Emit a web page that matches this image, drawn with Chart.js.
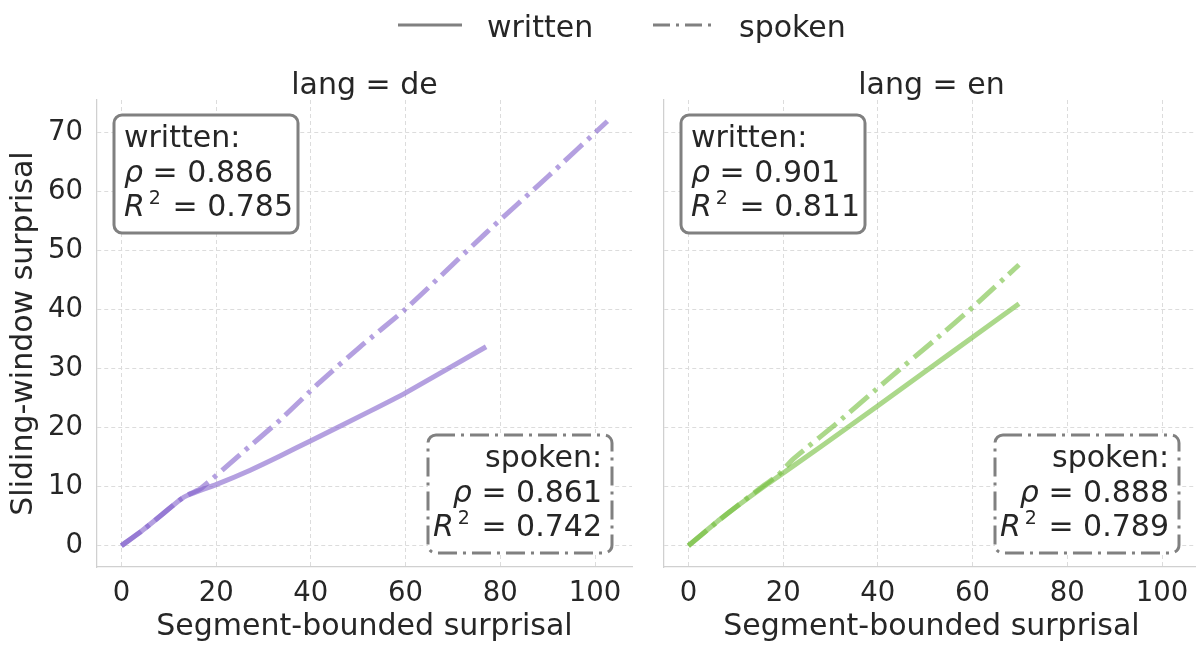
<!DOCTYPE html>
<html>
<head>
<meta charset="utf-8">
<script src="https://cdn.jsdelivr.net/npm/chart.js@4.4.1/dist/chart.umd.min.js"></script>
<style>
html, body { margin: 0; padding: 0; background: #fff; overflow: hidden; }
#wrap { position: relative; width: 1196px; height: 645px; overflow: hidden; }
#wrap canvas { position: absolute; left: 0; top: 0; }
</style>
</head>
<body>
<div id="wrap">
	<canvas id="chartDe" width="1200" height="645"></canvas>
	<canvas id="chartEn" width="1200" height="645"></canvas>
</div>
<script>
// data
const langs = ['de', 'en'];
const seriesNames = ['written', 'spoken'];

const deWrittenX = [0, 4.6, 8.9, 12.4, 14.1, 20.1, 27.2, 33.5, 40, 52.5, 60, 77];
const deWrittenY = [0, 2.7, 5.5, 7.8, 8.6, 10.4, 12.8, 15.2, 17.8, 22.8, 25.9, 33.7];
const deSpokenX = [0, 4.6, 8.9, 12.4, 14.5, 16.6, 25, 33.5, 41.6, 50.4, 60, 77, 90, 102.6];
const deSpokenY = [0, 2.7, 5.5, 7.8, 8.8, 9.6, 15.4, 21.3, 27.5, 33.7, 40.1, 53, 62.5, 71.9];

const enWrittenX = [0, 6.7, 15.9, 28, 39.8, 50, 60.3, 69.8];
const enWrittenY = [0, 4.5, 10.0, 16.8, 23.6, 29.5, 35.5, 41.0];
const enSpokenX = [0, 8, 15.9, 19, 22, 31.4, 42, 51.8, 60.3, 69.8];
const enSpokenY = [0, 5.3, 10.2, 12, 14.6, 20.8, 28.1, 34.7, 40.6, 47.6];

const rhoWritten = [0.886, 0.901];
const r2Written = [0.785, 0.811];
const rhoSpoken = [0.861, 0.888];
const r2Spoken = [0.742, 0.789];

const xTicks = [0, 20, 40, 60, 80, 100];
const yTicks = [0, 10, 20, 30, 40, 50, 60, 70];

const FONT = '"DejaVu Sans", "Liberation Sans", sans-serif';
const TEXT = '#262626';
const EDGE = '#808080';
const dashDot = [24, 7, 4, 7];

function pts(xs, ys) {
	return xs.map(function(x, i) { return {x: x, y: ys[i]}; });
}

function segFont(s) {
	if (s.sup) return '19px ' + FONT;
	if (s.italic) return 'italic 30px ' + FONT;
	return '30px ' + FONT;
}

function drawRich(ctx, segs, x, y, align) {
	let w = 0;
	segs.forEach(function(s) {
		ctx.font = segFont(s);
		s.w = ctx.measureText(s.t).width + (s.gap || 0);
		w += s.w;
	});
	let cx = align === 'right' ? x - w : x;
	segs.forEach(function(s) {
		ctx.font = segFont(s);
		ctx.fillText(s.t, cx, s.sup ? y - 12 : y);
		cx += s.w;
	});
}

function roundBox(ctx, x, y, w, h, r, dash) {
	ctx.save();
	ctx.beginPath();
	ctx.moveTo(x + r, y);
	ctx.lineTo(x + w - r, y);
	ctx.arcTo(x + w, y, x + w, y + r, r);
	ctx.lineTo(x + w, y + h - r);
	ctx.arcTo(x + w, y + h, x + w - r, y + h, r);
	ctx.lineTo(x + r, y + h);
	ctx.arcTo(x, y + h, x, y + h - r, r);
	ctx.lineTo(x, y + r);
	ctx.arcTo(x, y, x + r, y, r);
	ctx.closePath();
	ctx.fillStyle = '#fff';
	ctx.fill();
	ctx.setLineDash(dash || []);
	ctx.lineWidth = 3;
	ctx.strokeStyle = EDGE;
	ctx.stroke();
	ctx.restore();
}

function statLines(label, rho, r2) {
	return [
		[{t: label + ':'}],
		[{t: 'ρ', italic: true}, {t: ' = ' + rho.toFixed(3)}],
		[{t: 'R', italic: true, gap: 4}, {t: '2', sup: true, gap: 2}, {t: ' = ' + r2.toFixed(3)}]
	];
}

const panelDecor = {
	id: 'panelDecor',
	afterDatasetsDraw: function(chart, args, opts) {
		const ctx = chart.ctx;
		const ca = chart.chartArea;
		const bw = 184, bh = 118;
		ctx.save();
		ctx.textAlign = 'left';
		ctx.textBaseline = 'alphabetic';

		// written box, top left
		let bx = ca.left + 17, by = ca.top + 15;
		roundBox(ctx, bx, by, bw, bh, 8, null);
		ctx.fillStyle = TEXT;
		statLines('written', opts.rhoW, opts.r2W).forEach(function(line, i) {
			drawRich(ctx, line, bx + 10, by + 32 + i * 34.7, 'left');
		});

		// spoken box, bottom right
		bx = ca.right - 20 - bw;
		by = ca.bottom - 14 - bh;
		roundBox(ctx, bx, by, bw, bh, 8, [19, 6, 3, 6]);
		ctx.fillStyle = TEXT;
		statLines('spoken', opts.rhoS, opts.r2S).forEach(function(line, i) {
			drawRich(ctx, line, bx + bw - 10, by + 32 + i * 34.7, 'right');
		});
		ctx.restore();
	},
	afterDraw: function(chart, args, opts) {
		const ctx = chart.ctx;
		const ca = chart.chartArea;
		ctx.save();
		ctx.fillStyle = TEXT;
		ctx.font = '30px ' + FONT;
		ctx.textAlign = 'center';
		ctx.textBaseline = 'alphabetic';
		ctx.fillText(opts.title, (ca.left + ca.right) / 2, 94);

		if (opts.legend) {
			ctx.strokeStyle = EDGE;
			ctx.lineWidth = 3;
			ctx.lineCap = 'butt';
			ctx.beginPath();
			ctx.moveTo(398, 25);
			ctx.lineTo(462, 25);
			ctx.stroke();
			ctx.setLineDash([17, 6, 3, 6]);
			ctx.beginPath();
			ctx.moveTo(653, 25);
			ctx.lineTo(712, 25);
			ctx.stroke();
			ctx.setLineDash([]);
			ctx.textAlign = 'left';
			ctx.fillText(seriesNames[0], 487, 37);
			ctx.fillText(seriesNames[1], 739, 37);
		}
		ctx.restore();
	}
};

function makePanel(canvasId, idx, written, spoken, color, showY) {
	const grid = {color: '#dcdcdc', lineWidth: 1, drawTicks: false};
	const border = {display: true, color: '#d0d0d0', width: 1.25, dash: [4, 3]};
	return new Chart(document.getElementById(canvasId), {
		type: 'line',
		data: {
			datasets: [
				{label: seriesNames[0], data: written, borderColor: color, borderWidth: 5,
					pointRadius: 0, fill: false, tension: 0.2, borderCapStyle: 'butt'},
				{label: seriesNames[1], data: spoken, borderColor: color, borderWidth: 5, borderDash: dashDot,
					pointRadius: 0, fill: false, tension: 0.2, borderCapStyle: 'butt'}
			]
		},
		options: {
			responsive: false,
			animation: false,
			events: [],
			layout: {padding: showY ? {left: 0, top: 100, right: 568, bottom: 0} : {left: 664, top: 100, right: 1, bottom: 0}},
			scales: {
				x: {
					type: 'linear', min: -5.15, max: 107.8,
					afterBuildTicks: function(s) { s.ticks = xTicks.map(function(v) { return {value: v}; }); },
					afterFit: function(s) { s.height = 78; },
					ticks: {stepSize: 20, includeBounds: false, maxRotation: 0, padding: 10, color: TEXT,
						font: {family: FONT, size: 27.5}},
					grid: grid, border: border,
					title: {display: true, text: 'Segment-bounded surprisal', color: TEXT,
						font: {family: FONT, size: 30}, padding: {top: 0, bottom: 0}}
				},
				y: {
					type: 'linear', min: -3.6, max: 75.5,
					afterBuildTicks: function(s) { s.ticks = yTicks.map(function(v) { return {value: v}; }); },
					afterFit: function(s) { s.width = showY ? 97 : 0; },
					ticks: {display: showY, stepSize: 10, includeBounds: false, padding: 14, color: TEXT,
						font: {family: FONT, size: 27.5}},
					grid: grid, border: border,
					title: {display: showY, text: 'Sliding-window surprisal', color: TEXT,
						font: {family: FONT, size: 30}, padding: {top: 6, bottom: 0}}
				}
			},
			plugins: {
				legend: {display: false},
				tooltip: {enabled: false},
				panelDecor: {
					title: 'lang = ' + langs[idx],
					legend: showY,
					rhoW: rhoWritten[idx], r2W: r2Written[idx],
					rhoS: rhoSpoken[idx], r2S: r2Spoken[idx]
				}
			}
		},
		plugins: [panelDecor]
	});
}

makePanel('chartDe', 0, pts(deWrittenX, deWrittenY), pts(deSpokenX, deSpokenY), 'rgba(130, 97, 203, 0.6)', true);
makePanel('chartEn', 1, pts(enWrittenX, enWrittenY), pts(enSpokenX, enSpokenY), 'rgba(115, 190, 60, 0.6)', false);
</script>
</body>
</html>
